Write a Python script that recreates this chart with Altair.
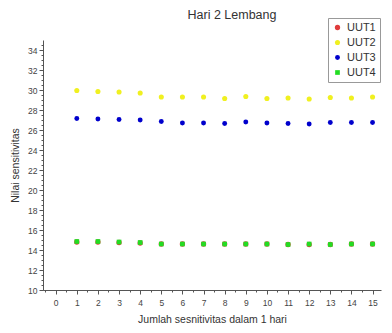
import altair as alt
import pandas as pd

x_vals = list(range(1, 16))
uut1 = [14.8, 14.8, 14.75, 14.7, 14.6, 14.6, 14.6, 14.6, 14.6, 14.6, 14.55, 14.55, 14.55, 14.6, 14.6]
uut2 = [29.95, 29.85, 29.8, 29.7, 29.3, 29.3, 29.3, 29.15, 29.35, 29.15, 29.2, 29.1, 29.25, 29.2, 29.3]
uut3 = [27.15, 27.1, 27.05, 27.0, 26.85, 26.7, 26.7, 26.65, 26.8, 26.7, 26.65, 26.6, 26.75, 26.75, 26.75]
uut4 = [14.85, 14.85, 14.8, 14.75, 14.6, 14.6, 14.6, 14.6, 14.6, 14.6, 14.55, 14.6, 14.55, 14.6, 14.6]
series = ["UUT1", "UUT2", "UUT3", "UUT4"]
colors = ["#e03c3c", "#f0f020", "#0000cc", "#22dd22"]
shapes = ["circle", "circle", "circle", "square"]
sizes = [28, 22, 70, 45]

rows = []
for name, vals in zip(series, [uut1, uut2, uut3, uut4]):
    for x, v in zip(x_vals, vals):
        rows.append({"x": x, "y": v, "s": name})
df = pd.DataFrame(rows)

xscale = alt.Scale(domain=[-0.6, 15.4], nice=False, zero=False)
yscale = alt.Scale(domain=[10, 35], nice=False, zero=False)

base_axis = dict(labelFont="Liberation Sans", titleFont="Liberation Sans",
                 labelFontSize=8.5, titleFontSize=10.5, titleFontWeight="normal",
                 labelColor="#444", titleColor="#333", domainColor="#555",
                 tickColor="#555", grid=False)

points = alt.Chart(df).mark_point(filled=True, opacity=1).encode(
    x=alt.X("x:Q", scale=xscale,
            axis=alt.Axis(values=list(range(0, 16)), tickSize=4, labelPadding=4,
                          title="Jumlah sesnitivitas dalam 1 hari", titlePadding=8, **base_axis)),
    y=alt.Y("y:Q", scale=yscale,
            axis=alt.Axis(values=list(range(10, 35, 2)), tickSize=4, labelPadding=2,
                          title="Nilai sensitivitas", titlePadding=7, **base_axis)),
    color=alt.Color("s:N", scale=alt.Scale(domain=series, range=colors),
                    legend=alt.Legend(title=None, orient="none", legendX=285, legendY=-22,
                                      strokeColor="#999", padding=4, labelFontSize=11,
                                      labelFont="Liberation Sans", labelColor="#333",
                                      symbolSize=45, rowPadding=3, fillColor="white")),
    shape=alt.Shape("s:N", scale=alt.Scale(domain=series, range=shapes), legend=None),
    size=alt.Size("s:N", scale=alt.Scale(domain=series, range=sizes), legend=None),
    order=alt.Order("s:N"),
)

minor_df = pd.DataFrame({"x": [0], "y": [10]})
minor = alt.Chart(minor_df).mark_point(opacity=0).encode(
    x=alt.X("x:Q", scale=xscale,
            axis=alt.Axis(values=[i * 0.5 - 0.5 for i in range(0, 33)], tickSize=2, labels=False,
                          title=None, domain=False, orient="bottom", grid=False, tickColor="#555")),
    y=alt.Y("y:Q", scale=yscale,
            axis=alt.Axis(values=[10 + i * 0.5 for i in range(0, 50)], tickSize=2, labels=False,
                          title=None, domain=False, orient="left", grid=False, tickColor="#555")),
)

chart = alt.layer(points, minor).resolve_axis(x="independent", y="independent").properties(
    width=338, height=250,
    title=alt.TitleParams("Hari 2 Lembang", font="Liberation Sans", fontSize=12.5,
                          fontWeight="normal", color="#333", dx=20, offset=-4, anchor="middle"),
    autosize=alt.AutoSizeParams(type="none"),
    padding={"left": 35, "top": 32, "right": 3, "bottom": 38},
).configure_view(stroke=None)

chart.save("out.html", embed_options={"renderer": "svg", "actions": False})
